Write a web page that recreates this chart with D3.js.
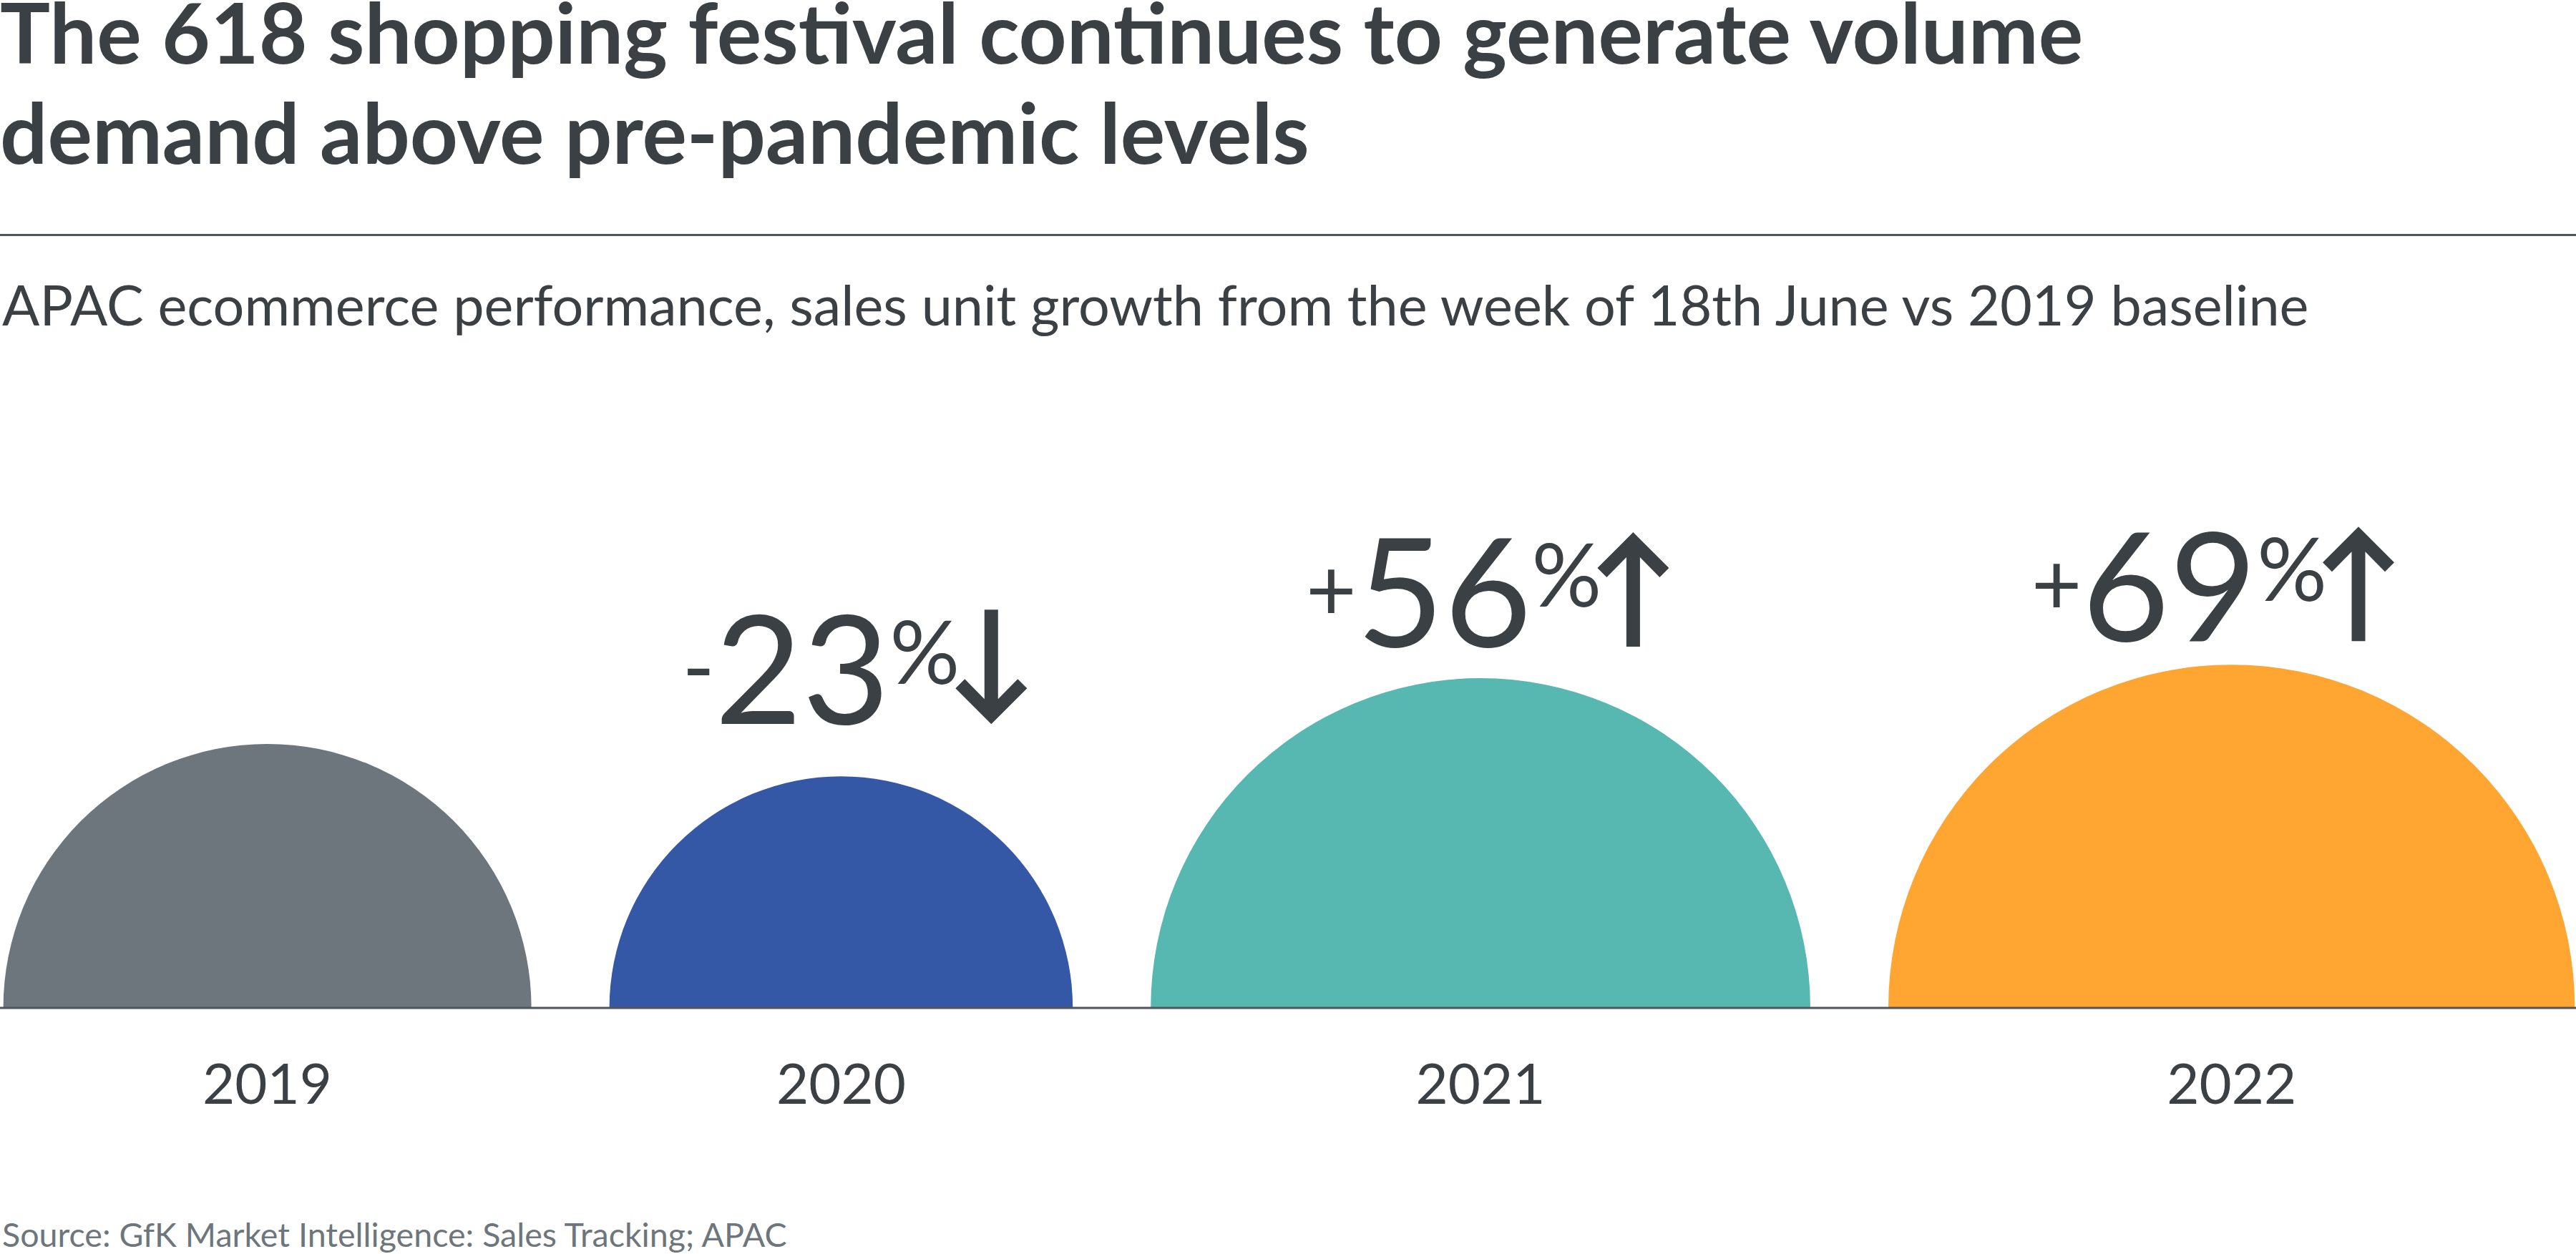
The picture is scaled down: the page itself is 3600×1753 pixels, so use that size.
<!DOCTYPE html>
<html>
<head>
<meta charset="utf-8">
<script src="https://cdn.jsdelivr.net/npm/d3@7"></script>
<style>
  html, body { margin: 0; padding: 0; background: #ffffff; }
  svg { display: block; }
  text { font-family: Lato, "Open Sans", sans-serif; }
</style>
</head>
<body>
<svg id="chart" width="3600" height="1753"></svg>
<script>
// ---- data ----
const years = ["2019", "2020", "2021", "2022"];
const indexVs2019 = [100, 77, 156, 169];           // sales units, 2019 = 100
const changeNumbers = ["", "23", "56", "69"];       // growth vs 2019 (%)
const changeSigns = ["", "-", "+", "+"];
const directions = ["", "down", "up", "up"];

// ---- styles / layout ----
const colors = ["#6c767c", "#3457a6", "#56b8b1", "#ffa531"];
const ink = "#3b4044";
const W = 3600, H = 1753;
const baseY = 1409;
const x0 = 4.6, gap = 109;
const annoDx = [0, -222, -244, -280];
const annoGap = [0, 73, 44, 33];

const svg = d3.select("#chart");
svg.append("rect").attr("width", W).attr("height", H).attr("fill", "#fff");

// title
const title = svg.append("text").attr("x", 0).attr("y", 89)
  .attr("font-size", 117).attr("font-weight", 700).attr("fill", ink);
title.append("tspan").attr("x", 0).text("The 618 shopping festival continues to generate volume");
title.append("tspan").attr("x", 0).attr("dy", 140).text("demand above pre-pandemic levels");

svg.append("line").attr("x1", 0).attr("x2", W).attr("y1", 328.5).attr("y2", 328.5)
  .attr("stroke", "#4d5357").attr("stroke-width", 3);

svg.append("text").attr("x", 3).attr("y", 455)
  .attr("font-size", 77.4).attr("fill", ink)
  .text("APAC ecommerce performance, sales unit growth from the week of 18th June vs 2019 baseline");

// scales: area-proportional semicircles
const r = d3.scaleSqrt().domain([0, 100]).range([0, 369]);
const radii = indexVs2019.map(v => r(v));
const centers = [];
let cur = x0;
radii.forEach((rad, i) => { centers.push(cur + rad); cur += 2 * rad + gap; });

const data = years.map((y, i) => ({
  year: y, value: indexVs2019[i], r: radii[i], cx: centers[i],
  color: colors[i], num: changeNumbers[i], sign: changeSigns[i], dir: directions[i], i
}));

const arc = d3.arc().innerRadius(0).startAngle(-Math.PI / 2).endAngle(Math.PI / 2);

svg.append("g").selectAll("path.semi").data(data).join("path")
  .attr("class", "semi")
  .attr("transform", d => `translate(${d.cx},${baseY})`)
  .attr("d", d => arc({ outerRadius: d.r }))
  .attr("fill", d => d.color);

svg.append("line").attr("x1", 0).attr("x2", W).attr("y1", baseY).attr("y2", baseY)
  .attr("stroke", "#4f565b").attr("stroke-width", 3);

// year labels
svg.append("g").selectAll("text").data(data).join("text")
  .attr("x", d => d.cx).attr("y", 1543)
  .attr("text-anchor", "middle").attr("font-size", 78).attr("fill", ink)
  .text(d => d.year);

// growth annotations
const anno = data.filter(d => d.num !== "");
anno.forEach(d => {
  const top = baseY - d.r;
  const by = top - annoGap[d.i];
  const lx = d.cx + annoDx[d.i];
  const t = svg.append("text").attr("x", lx).attr("y", by).attr("fill", ink);
  t.append("tspan").attr("font-size", 122).attr("dy", -36).text(d.sign);
  t.append("tspan").attr("font-size", 211).attr("dy", 36).text(d.num);
  t.append("tspan").attr("font-size", 122).attr("dy", -56).text("%");
  const len = t.node().getComputedTextLength();
  const ax = lx + len - 6 + 50; // arrow centre
  // arrow polygon (up), relative to tip
  const up = [[0,0],[50,50],[37,63],[9.5,35],[9.5,160],[-9.5,160],[-9.5,35],[-37,63],[-50,50]];
  let pts;
  if (d.dir === "up") pts = up.map(p => [ax + p[0], by - 160 + p[1]]);
  else pts = up.map(p => [ax + p[0], by - p[1]]);
  svg.append("path").attr("d", d3.line()(pts) + "Z").attr("fill", ink);
});

// source
svg.append("text").attr("x", 3).attr("y", 1743)
  .attr("font-size", 46.6).attr("fill", "#6c767c")
  .text("Source: GfK Market Intelligence: Sales Tracking; APAC");
</script>
</body>
</html>
